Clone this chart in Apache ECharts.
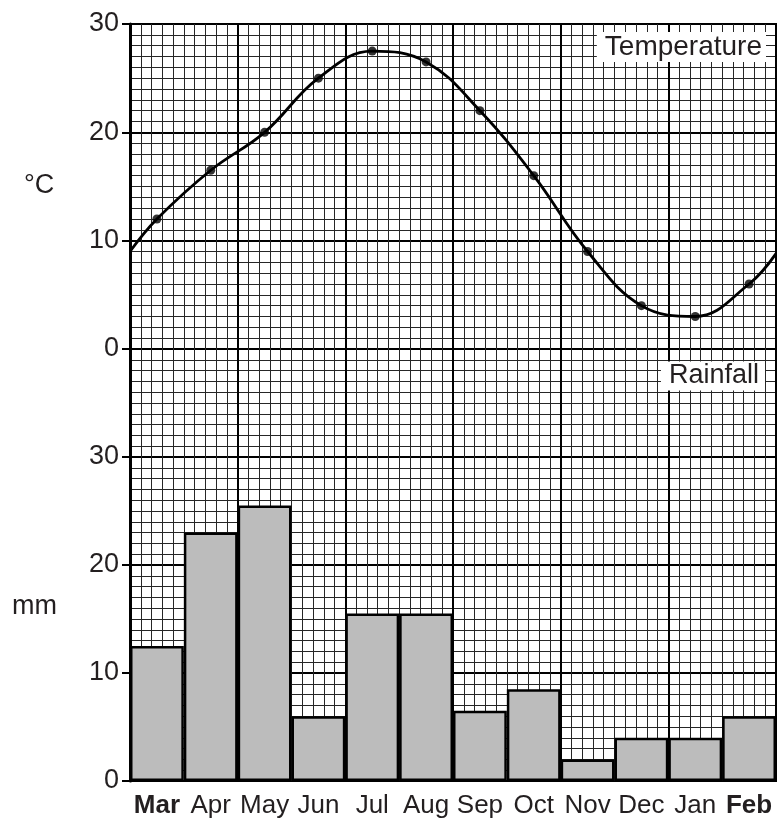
<!DOCTYPE html>
<html>
<head>
<meta charset="utf-8">
<script src="https://cdn.jsdelivr.net/npm/echarts@6/dist/echarts.min.js"></script>
<style>html,body{margin:0;padding:0;background:#fff}#c{width:782px;height:821px}</style>
</head>
<body>
<div id="c"></div>
<script>
var months = ['Mar','Apr','May','Jun','Jul','Aug','Sep','Oct','Nov','Dec','Jan','Feb'];
var temperature = [12, 16.5, 20, 25, 27.5, 26.5, 22, 16, 9, 4, 3, 6];
var tempStart = 9.0;   // curve value at left edge
var tempEnd = 8.8;     // curve value at right edge
var rainfall = [12.5, 23, 25.5, 6, 15.5, 15.5, 6.5, 8.5, 2, 4, 4, 6];
var tempTicks = [0, 10, 20, 30];
var rainTicks = [0, 10, 20, 30];

var FONT = 'Liberation Sans, Arial, Helvetica, sans-serif';
var TXT = '#231f20';

var dots = temperature.map(function (v, i) { return [i + 0.5, v]; });
var curve = [[0, tempStart]].concat(dots).concat([[12, tempEnd]]);

function gridX(gi) {
  return {
    gridIndex: gi, type: 'value', min: 0, max: 12, interval: 2,
    position: gi === 0 ? 'bottom' : 'top',
    axisLine: {show: false}, axisTick: {show: false}, axisLabel: {show: false},
    splitLine: {show: true, lineStyle: {color: '#000', width: 2}},
    minorTick: {show: false, splitNumber: 10},
    minorSplitLine: {show: true, lineStyle: {color: '#262626', width: 1}}
  };
}

var chart = echarts.init(document.getElementById('c'), null, {renderer: 'canvas'});
chart.setOption({
  animation: false,
  backgroundColor: '#fff',
  grid: [
    {left: 130, top: 24, width: 646, height: 325, show: true, borderColor: '#000', borderWidth: 2, backgroundColor: 'transparent'},
    {left: 130, top: 349, width: 646, height: 432, show: true, borderColor: '#000', borderWidth: 2, backgroundColor: 'transparent'}
  ],
  xAxis: [
    gridX(0),
    gridX(1),
    {
      gridIndex: 1, type: 'category', data: months, position: 'bottom',
      axisLine: {show: false}, axisTick: {show: false}, splitLine: {show: false},
      axisLabel: {
        margin: 12, fontSize: 26, color: TXT, fontFamily: FONT, interval: 0,
        formatter: function (v) { return (v === 'Mar' || v === 'Feb') ? '{b|' + v + '}' : v; },
        rich: {b: {fontWeight: 'bold', fontSize: 26, color: TXT, fontFamily: FONT}}
      }
    }
  ],
  yAxis: [
    {
      gridIndex: 0, type: 'value', min: 0, max: 30, interval: 10,
      axisLine: {show: true, lineStyle: {color: '#000', width: 3}},
      axisTick: {show: true, length: 8, lineStyle: {color: '#000', width: 2},
        customValues: tempTicks},
      axisLabel: {fontSize: 27, color: TXT, fontFamily: FONT, margin: 11,
        customValues: tempTicks},
      splitLine: {show: true, lineStyle: {color: '#000', width: 2}},
      minorTick: {show: false, splitNumber: 10},
      minorSplitLine: {show: true, lineStyle: {color: '#262626', width: 1}}
    },
    {
      gridIndex: 1, type: 'value', min: 0, max: 40, interval: 10,
      axisLine: {show: true, lineStyle: {color: '#000', width: 3}},
      axisTick: {show: true, length: 8, lineStyle: {color: '#000', width: 2},
        customValues: rainTicks},
      axisLabel: {fontSize: 27, color: TXT, fontFamily: FONT, margin: 11,
        customValues: rainTicks},
      splitLine: {show: true, lineStyle: {color: '#000', width: 2}},
      minorTick: {show: false, splitNumber: 10},
      minorSplitLine: {show: true, lineStyle: {color: '#262626', width: 1}}
    }
  ],
  series: [
    {
      type: 'bar', xAxisIndex: 2, yAxisIndex: 1, data: rainfall,
      barCategoryGap: '0%', z: 3,
      itemStyle: {color: '#bcbcbc', borderColor: '#000', borderWidth: 2.5}
    },
    {
      type: 'line', xAxisIndex: 0, yAxisIndex: 0, data: curve, smooth: 0.4,
      showSymbol: false, z: 4,
      lineStyle: {color: '#000', width: 2.8}
    },
    {
      type: 'scatter', xAxisIndex: 0, yAxisIndex: 0, data: dots,
      symbolSize: 9, z: 5, itemStyle: {color: '#000'}
    }
  ],
  graphic: [
    {type: 'text', left: 24, top: 172, z: 10, style: {text: '°C', fontSize: 27, fill: TXT, fontFamily: FONT}},
    {type: 'text', left: 12, top: 593, z: 10, style: {text: 'mm', fontSize: 27, fill: TXT, fontFamily: FONT}},
    {type: 'text', x: 766, y: 47, z: 10, style: {text: 'Temperature', fontSize: 28, fill: TXT, fontFamily: FONT,
      align: 'right', verticalAlign: 'middle', backgroundColor: '#fff', padding: [1, 4, 1, 8]}},
    {type: 'text', x: 765, y: 376, z: 10, style: {text: 'Rainfall', fontSize: 27, fill: TXT, fontFamily: FONT,
      align: 'right', verticalAlign: 'middle', backgroundColor: '#fff', padding: [1, 6, 1, 8]}}
  ]
});
</script>
</body>
</html>
